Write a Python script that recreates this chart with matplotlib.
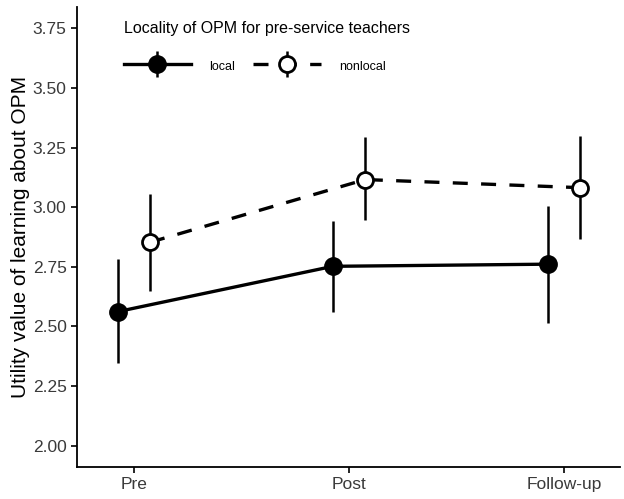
import numpy as np
import matplotlib
matplotlib.use("Agg")
import matplotlib.pyplot as plt
from matplotlib.lines import Line2D
from matplotlib.legend_handler import HandlerTuple

plt.rcParams['font.family'] = ['Liberation Sans', 'DejaVu Sans']

# dados
tempos = ["Pre", "Post", "Follow-up"]
local_media = [2.562, 2.752, 2.761]
local_inf = [2.346, 2.560, 2.516]
local_sup = [2.783, 2.943, 3.003]
nonlocal_media = [2.853, 3.116, 3.082]
nonlocal_inf = [2.649, 2.945, 2.866]
nonlocal_sup = [3.057, 3.296, 3.298]

desloc = 0.075
x = np.arange(len(tempos))
tracejado = (0, (4.5, 4))

fig = plt.figure(figsize=(6.24, 4.99), dpi=100)
ax = fig.add_axes([77/624, 1 - 467/499, (620-77)/624, (467-7)/499])

# local
xl = x - desloc
ax.vlines(xl, local_inf, local_sup, color='black', lw=1.8, zorder=2)
ax.plot(xl, local_media, color='black', lw=2.4, ls='-', zorder=3,
        marker='o', markersize=12.5, markerfacecolor='black', markeredgecolor='black')

# nonlocal
xn = x + desloc
ax.vlines(xn, nonlocal_inf, nonlocal_sup, color='black', lw=1.8, zorder=2)
ax.plot(xn, nonlocal_media, color='black', lw=2.4, ls=tracejado, zorder=3,
        marker='o', markersize=11.5, markerfacecolor='white', markeredgecolor='black',
        markeredgewidth=2.0)

ax.set_xlim(-0.265, 2.26)
ax.set_ylim(1.91, 3.84)
ax.set_xticks(x)
ax.set_xticklabels(tempos)
ax.set_yticks([2.00, 2.25, 2.50, 2.75, 3.00, 3.25, 3.50, 3.75])
ax.set_yticklabels(["2.00", "2.25", "2.50", "2.75", "3.00", "3.25", "3.50", "3.75"])
ax.tick_params(labelsize=12.5, labelcolor='#3a3a3a', color='black', length=4, width=1.2)
for lado in ['top', 'right']:
    ax.spines[lado].set_visible(False)
for lado in ['left', 'bottom']:
    ax.spines[lado].set_linewidth(1.3)
ax.set_ylabel("Utility value of learning about OPM", fontsize=15, labelpad=2)

# legenda (barra vertical desenhada primeiro, marcador por cima)
barra = Line2D([], [], color='black', lw=0, marker='|', markersize=19, markeredgewidth=1.8)
h_local = (barra, Line2D([], [], color='black', lw=2.4, marker='o', markersize=12.5))
h_nonlocal = (barra, Line2D([], [], color='black', lw=2.4, ls=tracejado, marker='o', markersize=11.5,
                            markerfacecolor='white', markeredgewidth=2.0))
leg = ax.legend([h_local, h_nonlocal], ["local", "nonlocal"],
                handler_map={tuple: HandlerTuple(ndivide=1, pad=0)},
                ncol=2, frameon=False, fontsize=9, title="Locality of OPM for pre-service teachers",
                title_fontsize=11.5, loc='upper left', bbox_to_anchor=(0.065, 0.995),
                handlelength=5.4, columnspacing=1.45, handletextpad=1.45,
                labelspacing=1.8, handleheight=1.5)
leg._legend_box.align = "left"

fig.savefig("out.png", dpi=100)
